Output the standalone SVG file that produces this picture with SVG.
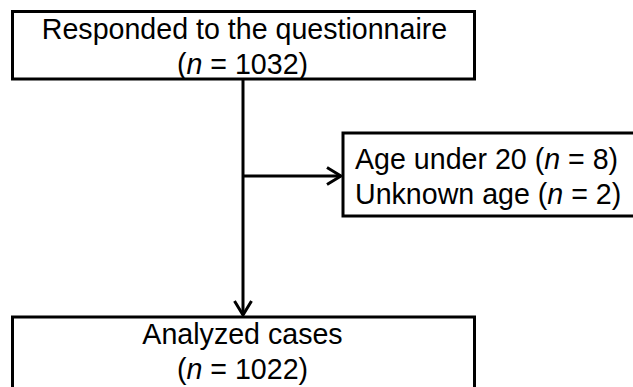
<svg xmlns="http://www.w3.org/2000/svg" width="633" height="387" viewBox="0 0 633 387">
<style>
.box{fill:#fff;stroke:#000;stroke-width:3}
.t{font-family:"Liberation Sans",Arial,sans-serif;font-size:28.6px;fill:#000}
.c{text-anchor:middle}
.ln{fill:none;stroke:#000;stroke-width:3}
</style>
<defs>
<marker id="ah" viewBox="0 0 18 20" refX="16" refY="10" markerWidth="18" markerHeight="20" markerUnits="userSpaceOnUse" orient="auto">
<path d="M2,1.5 L16,10 L2,18.5" fill="none" stroke="#000" stroke-width="3"/>
</marker>
</defs>
<g id="connectors">
<line class="ln" x1="243" y1="79" x2="243" y2="315" marker-end="url(#ah)"/>
<line class="ln" x1="243" y1="176" x2="341" y2="176" marker-end="url(#ah)"/>
</g>
<g id="node-responded">
<rect class="box" x="12.5" y="11.5" width="462" height="67.5"/>
<text class="t c" x="244.5" y="38.5">Responded to the questionnaire</text>
<text class="t c" x="242.5" y="74">(<tspan font-style="italic">n</tspan> = 1032)</text>
</g>
<g id="node-excluded">
<rect class="box" x="343" y="133" width="300" height="83"/>
<text class="t" x="355" y="168.5">Age under 20 (<tspan font-style="italic">n</tspan> = 8)</text>
<text class="t" x="355" y="203.5">Unknown age (<tspan font-style="italic">n</tspan> = 2)</text>
</g>
<g id="node-analyzed">
<rect class="box" x="12.5" y="317" width="462" height="80"/>
<text class="t c" x="242.5" y="344">Analyzed cases</text>
<text class="t c" x="242.5" y="379">(<tspan font-style="italic">n</tspan> = 1022)</text>
</g>
</svg>
